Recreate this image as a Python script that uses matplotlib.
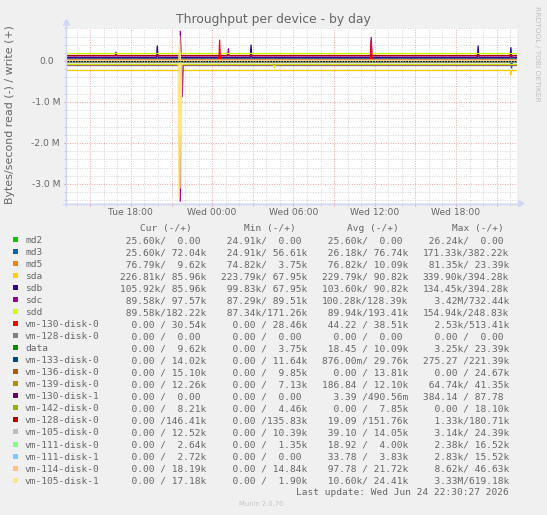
import numpy as np
import matplotlib
matplotlib.use("Agg")
import matplotlib.pyplot as plt
import matplotlib.transforms as mtransforms
from matplotlib.patches import Rectangle, Polygon
from matplotlib.lines import Line2D

devices = ["md2", "md3", "md5", "sda", "sdb", "sdc", "sdd", "vm-130-disk-0",
           "vm-128-disk-0", "data", "vm-133-disk-0", "vm-136-disk-0",
           "vm-139-disk-0", "vm-130-disk-1", "vm-142-disk-0", "vm-128-disk-0",
           "vm-105-disk-0", "vm-111-disk-0", "vm-111-disk-1", "vm-114-disk-0",
           "vm-105-disk-1"]
colors = ["#00CC00", "#0066B3", "#FF8000", "#FFCC00", "#330099", "#990099",
          "#CCFF00", "#FF0000", "#808080", "#008F00", "#00487D", "#B35A00",
          "#B38F00", "#6B006B", "#8FB300", "#B30000", "#BEBEBE", "#80FF80",
          "#80C9FF", "#FFC080", "#FFE680"]

cur_read = ["25.60k", "25.60k", "76.79k", "226.81k", "105.92k", "89.58k", "89.58k",
            "0.00", "0.00", "0.00", "0.00", "0.00", "0.00", "0.00", "0.00", "0.00",
            "0.00", "0.00", "0.00", "0.00", "0.00"]
cur_write = ["0.00", "72.04k", "9.62k", "85.96k", "85.96k", "97.57k", "182.22k",
             "30.54k", "0.00", "9.62k", "14.02k", "15.10k", "12.26k", "0.00", "8.21k",
             "146.41k", "12.52k", "2.64k", "2.72k", "18.19k", "17.18k"]
min_read = ["24.91k", "24.91k", "74.82k", "223.79k", "99.83k", "87.29k", "87.34k",
            "0.00", "0.00", "0.00", "0.00", "0.00", "0.00", "0.00", "0.00", "0.00",
            "0.00", "0.00", "0.00", "0.00", "0.00"]
min_write = ["0.00", "56.61k", "3.75k", "67.95k", "67.95k", "89.51k", "171.26k",
             "28.46k", "0.00", "3.75k", "11.64k", "9.85k", "7.13k", "0.00", "4.46k",
             "135.83k", "10.39k", "1.35k", "0.00", "14.84k", "1.90k"]
avg_read = ["25.60k", "26.18k", "76.82k", "229.79k", "103.60k", "100.28k", "89.94k",
            "44.22", "0.00", "18.45", "876.00m", "0.00", "186.84", "3.39", "0.00",
            "19.09", "39.10", "18.92", "33.78", "97.78", "10.60k"]
avg_write = ["0.00", "76.74k", "10.09k", "90.82k", "90.82k", "128.39k", "193.41k",
             "38.51k", "0.00", "10.09k", "29.76k", "13.81k", "12.10k", "490.56m",
             "7.85k", "151.76k", "14.05k", "4.00k", "3.83k", "21.72k", "24.41k"]
max_read = ["26.24k", "171.33k", "81.35k", "339.90k", "134.45k", "3.42M", "154.94k",
            "2.53k", "0.00", "3.25k", "275.27", "0.00", "64.74k", "384.14", "0.00",
            "1.33k", "3.14k", "2.38k", "2.83k", "8.62k", "3.33M"]
max_write = ["0.00", "382.22k", "23.39k", "394.28k", "394.28k", "732.44k", "248.83k",
             "513.41k", "0.00", "23.39k", "221.39k", "24.67k", "41.35k", "87.78",
             "18.10k", "180.71k", "24.39k", "16.52k", "15.52k", "46.63k", "619.18k"]

# picos vistos en el grafico: indice del disco, hora (desde mar 00:00), bytes/s (- = lectura)
spike_dev = [5, 5, 5, 5, 5, 5, 20, 20, 20, 7, 7, 4, 4, 4, 4, 3, 6, 1]
spike_hour = [16.9, 21.65, 21.65, 21.8, 25.2, 35.74, 21.55, 21.7, 21.6, 24.55, 35.74,
              19.95, 26.87, 43.63, 46.05, 46.05, 28.6, 46.1]
spike_val = [0.22e6, 0.732e6, -3.42e6, -0.87e6, 0.30e6, 0.58e6, -3.33e6, -3.1e6,
             0.619e6, 0.513e6, 0.50e6, 0.37e6, 0.394e6, 0.37e6, 0.33e6, -0.34e6,
             -0.155e6, -0.17e6]
gap_hour = 24.45

t_start, t_end = 13.25, 46.5
x_labels = {18: "Tue 18:00", 24: "Wed 00:00", 30: "Wed 06:00", 36: "Wed 12:00", 42: "Wed 18:00"}
y_ticks = [0, -1e6, -2e6, -3e6]
y_labels = ["0.0", "-1.0 M", "-2.0 M", "-3.0 M"]

W, H = 547, 515
txt_c = "#666666"
axis_c = "#CFD6F8"


def parse(s):
    mult = {"k": 1e3, "M": 1e6, "m": 1e-3}
    if s[-1] in mult:
        return float(s[:-1]) * mult[s[-1]]
    return float(s)


def fmt(s):
    if s[-1] not in "kMm":
        s = s + " "
    return s.rjust(7)


fig = plt.figure(figsize=(W / 100, H / 100), dpi=100)
fig.patch.set_facecolor("#F0F0F0")
# transformacion en pixeles (origen arriba a la izquierda)
pix = mtransforms.Affine2D().scale(1 / W, -1 / H).translate(0, 1) + fig.transFigure

ax = fig.add_axes([66.5 / W, 1 - 203.3 / H, 450.5 / W, 175.8 / H])
ax.set_facecolor("white")
ax.set_xlim(t_start, t_end)
ax.set_ylim(-3.47e6, 0.82e6)
for sp in ax.spines.values():
    sp.set_visible(False)

# rejilla
for h in range(14, 47):
    ax.axvline(h, color="#F0A8A8" if h % 3 == 0 else "#D4D4D4", lw=0.7,
               ls=(0, (1, 1.5)), zorder=0)
for k in range(-17, 5):
    ax.axhline(k * 0.2e6, color="#F0A8A8" if k % 5 == 0 else "#D4D4D4", lw=0.7,
               ls=(0, (1, 1.5)), zorder=0)

# series: lecturas (negativas) y escrituras (positivas)
for sign, avg_vals in ((-1, avg_read), (1, avg_write)):
    for i, dev in enumerate(devices):
        base = sign * parse(avg_vals[i])
        t = [t_start, gap_hour - 0.05, gap_hour, gap_hour + 0.05, t_end]
        v = [base, base, np.nan, base, base]
        for d, h, val in zip(spike_dev, spike_hour, spike_val):
            if d == i and np.sign(val) == sign:
                t += [h - 0.06, h, h + 0.06]
                v += [base, val, base]
        order = np.argsort(t, kind="stable")
        ax.plot(np.array(t)[order], np.array(v)[order], color=colors[i], lw=0.9, zorder=2)

ax.axhline(0, color="black", lw=0.8, ls=(0, (1.5, 1)), zorder=3)

# ticks
ax.set_xticks(range(15, 47, 3))
ax.set_xticklabels([x_labels.get(h, "") for h in range(15, 47, 3)])
ax.set_xticks(range(14, 47), minor=True)
ax.set_yticks(y_ticks)
ax.set_yticklabels([])
ax.set_yticks([k * 0.2e6 for k in range(-17, 5)], minor=True)
ax.tick_params(which="major", length=2, width=0.8, color="#F0A0A0", labelsize=6.6,
               labelcolor=txt_c, pad=1.6)
ax.tick_params(which="minor", length=2, width=0.8, color="#D0D0D0")

for yv, lab in zip(y_ticks, y_labels):
    xr = 60 if lab.endswith("M") else 54
    ax.text(xr, yv, lab, transform=mtransforms.blended_transform_factory(pix, ax.transData),
            ha="right", va="center", fontsize=6.6, color=txt_c)

# ejes con flechas
fig.add_artist(Line2D([66, 66], [206, 24], transform=pix, color=axis_c, lw=1))
fig.add_artist(Line2D([63, 519], [203.5, 203.5], transform=pix, color=axis_c, lw=1))
fig.add_artist(Polygon([[63.5, 25], [69.5, 25], [66.5, 19.5]], closed=True, transform=pix,
                       color=axis_c))
fig.add_artist(Polygon([[518.5, 200.5], [518.5, 206.5], [524, 203.5]], closed=True,
                       transform=pix, color=axis_c))

# textos
fig.text(273.5, 22.5, "Throughput per device - by day", transform=pix, ha="center",
         va="baseline", fontsize=8.9, color=txt_c)
fig.text(10.5, 115, "Bytes/second read (-) / write (+)", transform=pix, ha="center",
         va="center", rotation=90, fontsize=7.9, color=txt_c)
fig.text(537.5, 53.5, "RRDTOOL / TOBI OETIKER", transform=pix, ha="center", va="center",
         rotation=270, fontsize=5.4, color="#C0C0C0")

# leyenda
mono = "DejaVu Sans Mono"
lsize = 6.83
head_y = 227.7
for x0, lab in zip([140, 244.3, 346.7, 451.7], ["Cur (-/+)", "Min (-/+)", "Avg (-/+)", "Max (-/+)"]):
    fig.text(x0, head_y + 3.5, lab, transform=pix, ha="left", va="baseline",
             family=mono, fontsize=lsize, color=txt_c)

for i, dev in enumerate(devices):
    cy = 239.5 + 12.03 * i
    fig.add_artist(Rectangle((13.3, cy - 2.5), 5, 5, transform=pix, facecolor=colors[i],
                             edgecolor="none"))
    fig.text(25, cy + 3.5, dev, transform=pix, ha="left", va="baseline",
             family=mono, fontsize=lsize, color=txt_c)
    cols = [(cur_read, cur_write), (min_read, min_write), (avg_read, avg_write),
            (max_read, max_write)]
    for x0, (rd, wr) in zip([120, 221, 321.7, 422.7], cols):
        fig.text(x0, cy + 3.5, fmt(rd[i]) + "/" + fmt(wr[i]), transform=pix, ha="left",
                 va="baseline", family=mono, fontsize=lsize, color=txt_c)

fig.text(509, 491.7 + 3.5, "Last update: Wed Jun 24 22:30:27 2026", transform=pix,
         ha="right", va="baseline", family=mono, fontsize=lsize, color=txt_c)
fig.text(261, 504, "Munin 2.0.76", transform=pix, ha="center", va="center",
         fontsize=4.9, color="#C8C8C8")

fig.savefig("out.png", dpi=100, facecolor=fig.get_facecolor())
